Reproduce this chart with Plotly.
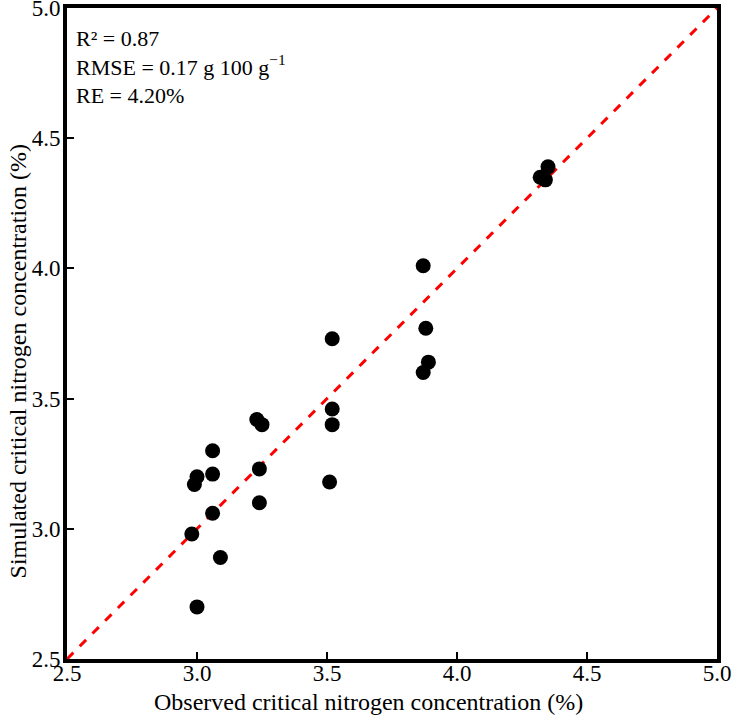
import plotly.graph_objects as go

observed = [3.09, 3.00, 2.98, 3.06, 3.24, 2.99, 3.00, 3.06, 3.06, 3.23, 3.25, 3.24,
            3.52, 3.88, 3.89, 3.87, 3.52, 3.52, 3.51, 3.87, 4.35, 4.32, 4.34]
simulated = [2.89, 2.70, 2.98, 3.06, 3.10, 3.17, 3.20, 3.21, 3.30, 3.42, 3.40, 3.23,
             3.73, 3.77, 3.64, 3.60, 3.46, 3.40, 3.18, 4.01, 4.39, 4.35, 4.34]
line_xy = [2.5, 5.0]
tick_vals = [2.5, 3.0, 3.5, 4.0, 4.5, 5.0]
tick_text = ["2.5", "3.0", "3.5", "4.0", "4.5", "5.0"]
x_title = "Observed critical nitrogen concentration (%)"
y_title = "Simulated critical nitrogen concentration (%)"
stats_text = "R² = 0.87<br>RMSE = 0.17 g 100 g<sup>−1</sup><br>RE = 4.20%"

FONT = "Liberation Serif, Times New Roman, serif"

fig = go.Figure()
fig.add_trace(go.Scatter(x=line_xy, y=line_xy, mode="lines",
                         line=dict(color="#ff0000", width=3, dash="dash"),
                         showlegend=False, hoverinfo="skip"))
fig.add_trace(go.Scatter(x=observed, y=simulated, mode="markers",
                         marker=dict(color="black", size=15),
                         showlegend=False))

axis_common = dict(range=[2.5, 5.0], tickvals=tick_vals, ticktext=tick_text,
                   showgrid=False, zeroline=False, showline=True, linecolor="black",
                   linewidth=4, mirror=True, ticks="inside", ticklen=7, tickwidth=2,
                   tickcolor="black", ticklabeloverflow="allow", automargin=False,
                   tickfont=dict(family=FONT, size=23, color="black"))

fig.update_layout(
    width=738, height=718,
    margin=dict(l=67, r=21, t=8, b=59),
    paper_bgcolor="white", plot_bgcolor="white",
    font=dict(family=FONT, color="black"),
    xaxis=dict(**axis_common, ticklabelstandoff=-10),
    yaxis=dict(**axis_common, ticklabelstandoff=-2),
    annotations=[
        dict(x=0.01, y=0.975, xref="paper", yref="paper",
             xanchor="left", yanchor="top", align="left", showarrow=False,
             text=stats_text, font=dict(family=FONT, size=22, color="black")),
        dict(x=0.4646, y=-0.0655, xref="paper", yref="paper",
             xanchor="center", yanchor="middle", showarrow=False,
             text=x_title, font=dict(family=FONT, size=24, color="black")),
        dict(x=-0.0754, y=0.4586, xref="paper", yref="paper",
             xanchor="center", yanchor="middle", showarrow=False, textangle=-90,
             text=y_title, font=dict(family=FONT, size=24, color="black")),
    ],
)

fig.write_html("out.html")
